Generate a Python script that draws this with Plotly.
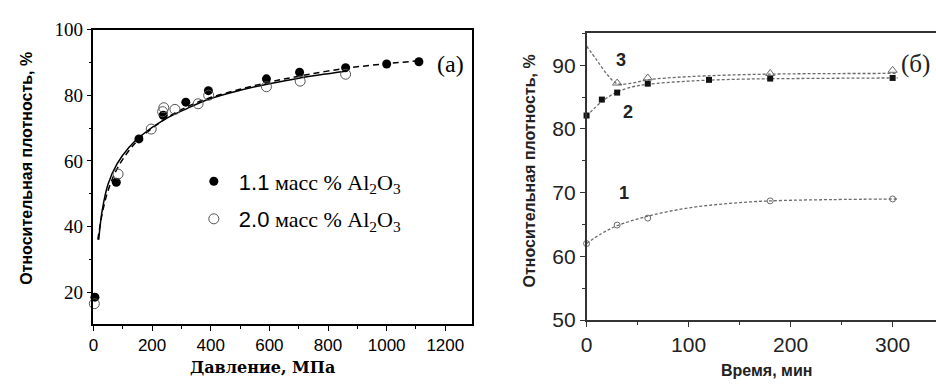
import plotly.graph_objects as go

W, H = 936, 389

# ---------- panel (a) data ----------
p_11 = [5, 78, 155, 238, 315, 392, 590, 703, 860, 1000, 1110]
d_11 = [18.5, 53.5, 66.7, 73.9, 77.9, 81.4, 85.0, 87.0, 88.4, 89.5, 90.2]
p_20 = [3, 84, 197, 236, 240, 278, 357, 393, 590, 705, 860]
d_20 = [16.5, 56.0, 69.7, 75.0, 76.2, 75.7, 77.4, 80.0, 82.6, 84.3, 86.4]
fit_solid_x = [18, 30, 50, 80, 120, 160, 240, 320, 400, 500, 600, 700, 860]
fit_solid_y = [36, 45, 53, 59, 64, 67.5, 72.5, 76, 79, 81.5, 83.5, 85.2, 87.3]
fit_dash_x = [15, 30, 50, 80, 120, 160, 240, 320, 400, 500, 600, 700, 860, 1000, 1110]
fit_dash_y = [36, 44, 51, 57.5, 63, 67, 72.5, 76.5, 79.3, 81.8, 84, 85.8, 88.2, 89.6, 90.5]

# ---------- panel (б) data ----------
t1 = [0, 30, 60, 180, 300]
r1 = [62.0, 64.9, 66.0, 68.7, 69.0]
t2 = [0, 15, 30, 60, 120, 180, 300]
r2 = [82.1, 84.6, 85.7, 87.1, 87.7, 87.9, 88.0]
t3 = [30, 60, 180, 300]
r3 = [87.2, 88.0, 88.7, 89.2]
c1x = [0, 15, 30, 60, 100, 140, 180, 240, 305]
c1y = [62.0, 63.6, 64.8, 66.3, 67.6, 68.3, 68.7, 68.9, 69.0]
c2x = [0, 15, 30, 45, 60, 100, 150, 200, 305]
c2y = [82.0, 84.3, 85.8, 86.6, 87.0, 87.5, 87.8, 87.9, 88.0]
c3x = [0, 10, 20, 30, 45, 60, 100, 180, 305]
c3y = [93.0, 90.8, 88.6, 87.1, 87.2, 87.7, 88.2, 88.6, 88.7]


def px(x):
    return x / W


def py(y):
    return 1 - y / H


fig = go.Figure()

# panel (a)
fig.add_trace(go.Scatter(x=fit_solid_x, y=fit_solid_y, mode="lines", line=dict(color="black", width=1.5, shape="spline"),
                         showlegend=False, xaxis="x", yaxis="y"))
fig.add_trace(go.Scatter(x=fit_dash_x, y=fit_dash_y, mode="lines",
                         line=dict(color="black", width=1.5, dash="6px,4px", shape="spline"),
                         showlegend=False, xaxis="x", yaxis="y"))
fig.add_trace(go.Scatter(x=p_11, y=d_11, mode="markers", marker=dict(symbol="circle", size=9, color="black"),
                         name="<span style='font-family:Liberation Sans'>1.1</span> масс % Al<sub>2</sub>O<sub>3</sub>",
                         legendgroup="a", cliponaxis=False, xaxis="x", yaxis="y"))
fig.add_trace(go.Scatter(x=p_20, y=d_20, mode="markers",
                         marker=dict(symbol="circle-open", size=10, color="#555", line=dict(width=1)),
                         name="<span style='font-family:Liberation Sans'>2.0</span> масс % Al<sub>2</sub>O<sub>3</sub>",
                         legendgroup="b", cliponaxis=False, xaxis="x", yaxis="y"))

# panel (б)
gray = "#6a6a6a"
for cx, cy in [(c1x, c1y), (c2x, c2y), (c3x, c3y)]:
    fig.add_trace(go.Scatter(x=cx, y=cy, mode="lines", line=dict(color=gray, width=1.3, dash="3px,2px", shape="spline"),
                             showlegend=False, xaxis="x2", yaxis="y2"))
fig.add_trace(go.Scatter(x=t1, y=r1, mode="markers", marker=dict(symbol="circle-open", size=6, color=gray, line=dict(width=1)),
                         showlegend=False, cliponaxis=False, xaxis="x2", yaxis="y2"))
fig.add_trace(go.Scatter(x=t2, y=r2, mode="markers", marker=dict(symbol="square", size=6, color="#111"),
                         showlegend=False, cliponaxis=False, xaxis="x2", yaxis="y2"))
fig.add_trace(go.Scatter(x=t3, y=r3, mode="markers", marker=dict(symbol="triangle-up-open", size=8, color=gray, line=dict(width=1)),
                         showlegend=False, cliponaxis=False, xaxis="x2", yaxis="y2"))

axis_common = dict(showgrid=False, zeroline=False, ticks="outside", linecolor="black", tickcolor="black", showline=True)

fig.update_layout(
    width=W, height=H, margin=dict(l=0, r=0, t=0, b=0),
    paper_bgcolor="white", plot_bgcolor="white",
    xaxis=dict(domain=[px(88), px(469)], range=[0, 1291], anchor="y", mirror=True, linewidth=1.5,
               dtick=200, tick0=0, ticklen=5, tickwidth=1.2,
               minor=dict(dtick=100, ticks="outside", ticklen=3, tickcolor="black"),
               tickfont=dict(family="Liberation Sans", size=17, color="black"), **axis_common),
    yaxis=dict(domain=[py(332), py(20.7)], range=[10.3, 100], anchor="x", mirror=True, linewidth=1.5,
               dtick=20, tick0=0, ticklen=5, tickwidth=1.2,
               minor=dict(dtick=10, ticks="outside", ticklen=3, tickcolor="black"),
               tickfont=dict(family="Liberation Serif", size=19, color="black"), **axis_common),
    xaxis2=dict(domain=[px(584.3), 1.0], range=[0, 342.5], anchor="y2", mirror=True, linewidth=1.5,
                dtick=100, tick0=0, ticklen=5, tickwidth=1.2,
                minor=dict(dtick=50, ticks="outside", ticklen=3, tickcolor="#333"),
                tickfont=dict(family="Liberation Sans", size=21, color="#222"),
                **{**axis_common, "linecolor": "#333", "tickcolor": "#333"}),
    yaxis2=dict(domain=[py(327.7), py(24)], range=[50, 95.1], anchor="x2", mirror=False, linewidth=1.5,
                dtick=10, tick0=0, ticklen=5, tickwidth=1.2,
                minor=dict(dtick=5, ticks="outside", ticklen=3, tickcolor="#333"),
                tickfont=dict(family="Liberation Sans", size=21, color="#222"),
                **{**axis_common, "linecolor": "#333", "tickcolor": "#333"}),
    legend=dict(x=px(184), y=py(159), xanchor="left", yanchor="top", bgcolor="rgba(0,0,0,0)",
                font=dict(family="Liberation Serif", size=22, color="black"),
                traceorder="grouped", tracegroupgap=6, itemwidth=40),
    showlegend=True,
)

ann = [
    dict(x=px(21), y=py(167), text="<b>Относительная плотность, %</b>", textangle=-90,
         font=dict(family="Liberation Sans", size=16, color="black")),
    dict(x=px(258), y=py(378), text="<b>Давление, МПа</b>", font=dict(family="DejaVu Serif", size=16, color="black")),
    dict(x=px(447), y=py(57), text="(а)", font=dict(family="Liberation Serif", size=24, color="black")),
    dict(x=px(527), y=py(170), text="<b>Относительная плотность, %</b>", textangle=-90,
         font=dict(family="Liberation Sans", size=16, color="#222")),
    dict(x=px(765), y=py(381), text="<b>Время, мин</b>", font=dict(family="Liberation Sans", size=16, color="#222")),
    dict(x=px(915), y=py(57), text="(б)", font=dict(family="Liberation Serif", size=25, color="#222")),
    dict(x=px(619), y=py(53), text="<b>3</b>", font=dict(family="Liberation Sans", size=18, color="#222")),
    dict(x=px(626), y=py(108), text="<b>2</b>", font=dict(family="Liberation Sans", size=18, color="#222")),
    dict(x=px(622), y=py(193), text="<b>1</b>", font=dict(family="Liberation Sans", size=18, color="#222")),
]
for a in ann:
    a.update(xref="paper", yref="paper", showarrow=False, xanchor="center", yanchor="middle")
fig.update_layout(annotations=ann)

fig.write_html("out.html")
